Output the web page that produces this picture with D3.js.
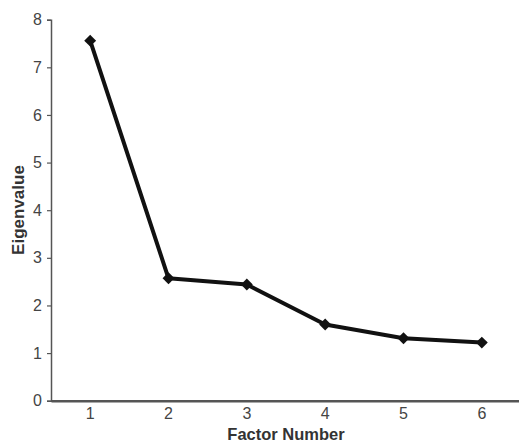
<!DOCTYPE html>
<html>
<head>
<meta charset="utf-8">
<script src="https://cdn.jsdelivr.net/npm/d3@7"></script>
<style>
  body { margin: 0; background: #fff; }
  text { font-family: "Liberation Sans", Arial, sans-serif; }
</style>
</head>
<body>
<svg width="519" height="441"></svg>
<script>
const factors = ['1', '2', '3', '4', '5', '6'];
const eigenvalues = [7.56, 2.57, 2.44, 1.6, 1.31, 1.22];
const yTicks = [0, 1, 2, 3, 4, 5, 6, 7, 8];

const svg = d3.select('svg');
const margin = { top: 19.7, left: 51, right: -2, bottom: 40.3 };
const width = 519 - margin.left - margin.right;
const height = 441 - margin.top - margin.bottom;

const g = svg.append('g')
  .attr('transform', `translate(${margin.left},${margin.top})`);

const x = d3.scaleBand().domain(factors).range([0, width]);
const y = d3.scaleLinear().domain([0, 8]).range([height, 0]);

// y axis
const yAxis = g.append('g')
  .call(d3.axisLeft(y).tickValues(yTicks).tickSize(4).tickPadding(5));
yAxis.select('.domain').attr('stroke', '#555').attr('stroke-width', 1.5);
yAxis.selectAll('.tick line').attr('stroke', '#555').attr('stroke-width', 1.2);
yAxis.selectAll('.tick text')
  .attr('fill', '#444').attr('font-size', 16);

// x axis
const xAxis = g.append('g')
  .attr('transform', `translate(0,${height})`)
  .call(d3.axisBottom(x).tickSize(0).tickPadding(7));
xAxis.select('.domain').attr('stroke', '#555').attr('stroke-width', 2.5);
xAxis.selectAll('.tick text')
  .attr('fill', '#444').attr('font-size', 16);

// line
const line = d3.line()
  .x((d, i) => x(factors[i]) + x.bandwidth() / 2)
  .y(d => y(d));

g.append('path')
  .datum(eigenvalues)
  .attr('fill', 'none')
  .attr('stroke', '#111')
  .attr('stroke-width', 4)
  .attr('stroke-linejoin', 'round')
  .attr('d', line);

g.selectAll('.marker')
  .data(eigenvalues)
  .enter()
  .append('path')
  .attr('class', 'marker')
  .attr('d', d3.symbol().type(d3.symbolDiamond2).size(90))
  .attr('transform', (d, i) => `translate(${x(factors[i]) + x.bandwidth() / 2},${y(d)})`)
  .attr('fill', '#111');

// axis titles
svg.append('text')
  .attr('x', 286)
  .attr('y', 439.5)
  .attr('text-anchor', 'middle')
  .attr('fill', '#333')
  .attr('font-size', 16.5)
  .attr('font-weight', 'bold')
  .text('Factor Number');

svg.append('text')
  .attr('transform', 'translate(24,210) rotate(-90)')
  .attr('text-anchor', 'middle')
  .attr('fill', '#333')
  .attr('font-size', 17)
  .attr('font-weight', 'bold')
  .text('Eigenvalue');
</script>
</body>
</html>
